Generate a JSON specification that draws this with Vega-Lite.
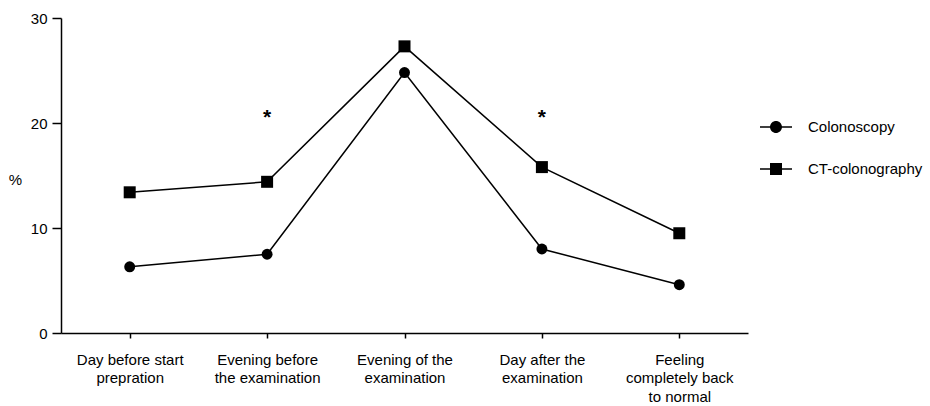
{
  "$schema": "https://vega.github.io/schema/vega-lite/v6.json",
  "autosize": {"type": "none"},
  "padding": {"left": 61, "top": 18, "right": 182, "bottom": 73},
  "width": 687,
  "height": 315,
  "background": "white",
  "config": {
    "view": {"stroke": null},
    "font": "Liberation Sans",
    "axis": {"labelFont": "Liberation Sans", "titleFont": "Liberation Sans", "domainColor": "black", "tickColor": "black", "labelColor": "black", "titleColor": "black", "domainWidth": 1.5, "tickWidth": 1.5, "grid": false}
  },
  "datasets": {
    "main": [
      {"when": "Day before start\nprepration", "group": "Colonoscopy", "pct": 6.3},
      {"when": "Evening before\nthe examination", "group": "Colonoscopy", "pct": 7.5},
      {"when": "Evening of the\nexamination", "group": "Colonoscopy", "pct": 24.8},
      {"when": "Day after the\nexamination", "group": "Colonoscopy", "pct": 8.0},
      {"when": "Feeling\ncompletely back\nto normal", "group": "Colonoscopy", "pct": 4.6},
      {"when": "Day before start\nprepration", "group": "CT-colonography", "pct": 13.4},
      {"when": "Evening before\nthe examination", "group": "CT-colonography", "pct": 14.4},
      {"when": "Evening of the\nexamination", "group": "CT-colonography", "pct": 27.3},
      {"when": "Day after the\nexamination", "group": "CT-colonography", "pct": 15.8},
      {"when": "Feeling\ncompletely back\nto normal", "group": "CT-colonography", "pct": 9.5}
    ],
    "sig": [
      {"when": "Evening before\nthe examination", "mark": "*"},
      {"when": "Day after the\nexamination", "mark": "*"}
    ]
  },
  "layer": [
    {
      "data": {"name": "main"},
      "mark": {"type": "line", "color": "black", "strokeWidth": 1.5},
      "encoding": {
        "x": {"field": "when", "type": "nominal", "sort": null},
        "y": {"field": "pct", "type": "quantitative"},
        "detail": {"field": "group"}
      }
    },
    {
      "data": {"name": "main"},
      "transform": [{"filter": "datum.group === 'Colonoscopy'"}],
      "mark": {"type": "point", "shape": "circle", "filled": true, "color": "black", "opacity": 1, "size": 120},
      "encoding": {
        "x": {
          "field": "when", "type": "nominal", "sort": null,
          "scale": {"type": "point", "padding": 0.5},
          "axis": {"title": null, "labelAngle": 0, "labelExpr": "split(datum.label, '\\n')", "labelFontSize": 15, "labelLineHeight": 18.5, "labelPadding": 14, "tickSize": 5, "labelBaseline": "top", "labelAlign": "center"}
        },
        "y": {
          "field": "pct", "type": "quantitative",
          "scale": {"domain": [0, 30], "nice": false, "zero": true},
          "axis": {"values": [0, 10, 20, 30], "title": "%", "titleAngle": 0, "titleAlign": "center", "titleBaseline": "middle", "titleX": -46, "titleY": 161, "titleFontSize": 15, "titleFontWeight": "normal", "labelFontSize": 15, "tickSize": 9, "labelPadding": 5}
        }
      }
    },
    {
      "data": {"name": "main"},
      "transform": [{"filter": "datum.group === 'CT-colonography'"}],
      "mark": {"type": "point", "shape": "square", "filled": true, "color": "black", "opacity": 1, "size": 144},
      "encoding": {
        "x": {"field": "when", "type": "nominal", "sort": null},
        "y": {"field": "pct", "type": "quantitative"}
      }
    },
    {
      "data": {"name": "main"},
      "transform": [{"filter": "datum.pct < 0"}],
      "mark": {"type": "point", "filled": true, "color": "black", "opacity": 1},
      "encoding": {
        "x": {"field": "when", "type": "nominal", "sort": null},
        "y": {"field": "pct", "type": "quantitative"},
        "shape": {
          "field": "group", "type": "nominal",
          "scale": {
            "domain": ["Colonoscopy", "CT-colonography"],
            "range": [
              "M -1 -0.047 L -0.372 -0.047 A 0.375 0.375 0 0 1 0.372 -0.047 L 1 -0.047 L 1 0.047 L 0.372 0.047 A 0.375 0.375 0 0 1 -0.372 0.047 L -1 0.047 Z",
              "M -1 -0.047 L -0.375 -0.047 L -0.375 -0.375 L 0.375 -0.375 L 0.375 -0.047 L 1 -0.047 L 1 0.047 L 0.375 0.047 L 0.375 0.375 L -0.375 0.375 L -0.375 0.047 L -1 0.047 Z"
            ]
          },
          "legend": {
            "title": null,
            "orient": "none",
            "legendX": 699,
            "legendY": 93,
            "symbolSize": 1024,
            "symbolFillColor": "black",
            "symbolStrokeWidth": 0,
            "labelFontSize": 15,
            "labelColor": "black",
            "labelOffset": 16,
            "rowPadding": 18
          }
        }
      }
    },
    {
      "data": {"name": "sig"},
      "mark": {"type": "text", "fontSize": 21, "fontWeight": "bold", "color": "black", "baseline": "alphabetic", "align": "center"},
      "encoding": {
        "x": {"field": "when", "type": "nominal", "sort": null},
        "y": {"datum": 19.9, "type": "quantitative"},
        "text": {"field": "mark"}
      }
    }
  ]
}
